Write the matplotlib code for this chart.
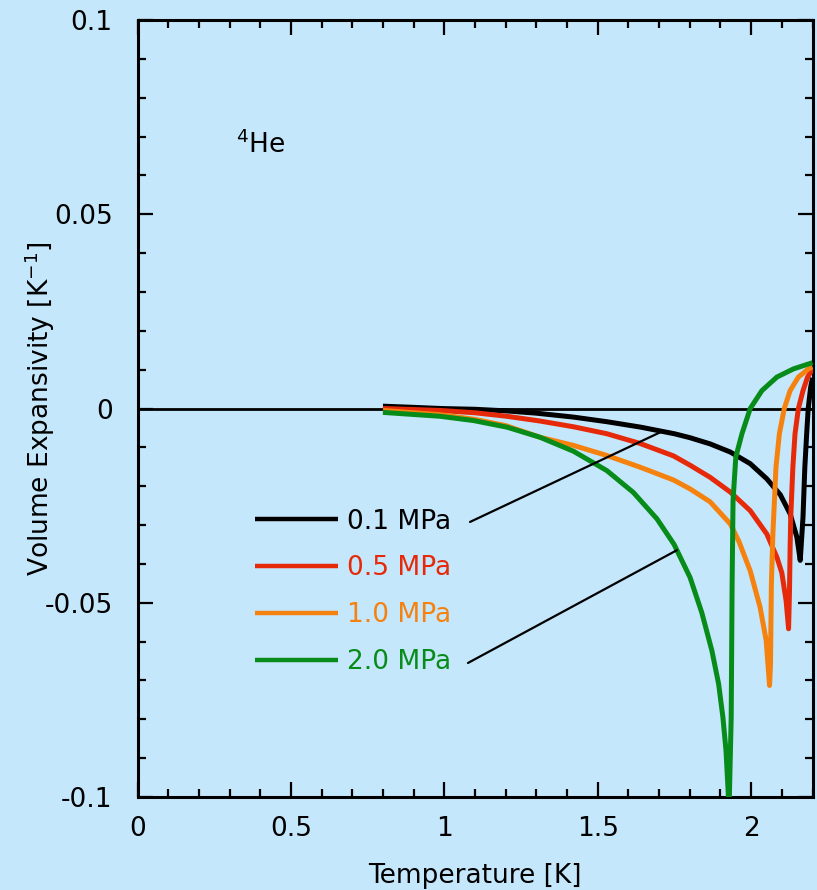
import numpy as np
import matplotlib
matplotlib.use("Agg")
import matplotlib.pyplot as plt
from matplotlib.ticker import MultipleLocator

plt.rcParams['font.family'] = ['DejaVu Sans']
plt.rcParams['axes.unicode_minus'] = False

# ---- data ----
labels = ["0.1 MPa", "0.5 MPa", "1.0 MPa", "2.0 MPa"]
colors = ["#000000", "#E62A09", "#F5820F", "#078C1A"]

T_01 = [0.8, 0.9, 0.99, 1.1, 1.2, 1.3, 1.42, 1.53, 1.64, 1.75, 1.80, 1.866, 1.932, 1.997,
        2.051, 2.095, 2.127, 2.149, 2.160,
        2.169, 2.175, 2.181, 2.186, 2.194, 2.2]
a_01 = [0.0006, 0.0003, 0.0, -0.0002, -0.0006, -0.0012, -0.0022, -0.0034, -0.0048, -0.0065,
        -0.0075, -0.0091, -0.0112, -0.0142,
        -0.0181, -0.0222, -0.0271, -0.0331, -0.0391,
        -0.028, -0.0151, -0.0065, 0.0, 0.0055, 0.0079]

T_05 = [0.8, 0.986, 1.1, 1.204, 1.31, 1.421, 1.53, 1.638, 1.747, 1.801, 1.866, 1.932, 1.997,
        2.051, 2.084, 2.1, 2.114, 2.122,
        2.125, 2.127, 2.129, 2.136, 2.143, 2.154, 2.169, 2.184, 2.2]
a_05 = [0.0, -0.0005, -0.0011, -0.002, -0.0032, -0.0047, -0.0065, -0.009, -0.0122, -0.0146,
        -0.0177, -0.0215, -0.0263,
        -0.0323, -0.0383, -0.0423, -0.0495, -0.0567,
        -0.047, -0.036, -0.028, -0.0151, -0.0065, 0.0, 0.0046, 0.0081, 0.0101]

T_10 = [0.8, 0.986, 1.1, 1.2, 1.312, 1.421, 1.53, 1.638, 1.747, 1.801, 1.866, 1.932, 1.96,
        1.997, 2.029, 2.049, 2.060,
        2.063, 2.066, 2.071, 2.081, 2.092, 2.108, 2.127, 2.154, 2.187, 2.2]
a_10 = [-0.0005, -0.0016, -0.0028, -0.0044, -0.0074, -0.0095, -0.0121, -0.0151, -0.0184,
        -0.0207, -0.0240, -0.0297, -0.0342,
        -0.0418, -0.0511, -0.0597, -0.0713,
        -0.066, -0.045, -0.032, -0.0151, -0.0065, 0.0, 0.0046, 0.0081, 0.0102, 0.0107]

T_20 = [0.8, 0.986, 1.095, 1.204, 1.312, 1.421, 1.53, 1.616, 1.693, 1.749, 1.801, 1.839,
        1.872, 1.894, 1.908, 1.918, 1.926,
        1.929, 1.935, 1.938, 1.941, 1.950, 1.970, 1.997, 2.035, 2.084, 2.138, 2.2]
a_20 = [-0.001, -0.002, -0.0031, -0.0048, -0.0074, -0.0110, -0.0160, -0.0216, -0.0284,
        -0.0350, -0.0435, -0.0525,
        -0.0623, -0.0709, -0.0795, -0.088, -0.1,
        -0.1, -0.0795, -0.045, -0.0237, -0.0125, -0.0065, 0.0, 0.0046, 0.0081,
        0.0102, 0.0118]

series_T = [T_01, T_05, T_10, T_20]
series_a = [a_01, a_05, a_10, a_20]

xticks = [0, 0.5, 1, 1.5, 2]
xticklabels = ["0", "0.5", "1", "1.5", "2"]
yticks = [-0.1, -0.05, 0, 0.05, 0.1]
yticklabels = ["-0.1", "-0.05", "0", "0.05", "0.1"]

bg = "#C5E7FC"

fig = plt.figure(figsize=(8.17, 8.90), dpi=100, facecolor=bg)
ax = fig.add_axes([0.1683, 0.1045, 0.8262, 0.873])
ax.set_facecolor(bg)

ax.axhline(0, color="black", lw=2.0, zorder=1)

lines = []
for T, a, c, lab in zip(series_T, series_a, colors, labels):
    ln, = ax.plot(T, a, color=c, lw=3.6, label=lab, zorder=3, solid_joinstyle='round',
                  solid_capstyle='butt')
    lines.append(ln)

ax.set_xlim(0, 2.2)
ax.set_ylim(-0.1, 0.1)
ax.set_xticks(xticks, xticklabels)
ax.set_yticks(yticks, yticklabels)
ax.xaxis.set_minor_locator(MultipleLocator(0.1))
ax.yaxis.set_minor_locator(MultipleLocator(0.01))
ax.tick_params(which='both', direction='in', top=True, right=True, width=1.6, color='black')
ax.tick_params(which='major', length=11, labelsize=19)
ax.tick_params(which='minor', length=6)
ax.tick_params(axis='y', which='major', pad=18)
ax.tick_params(axis='x', which='major', pad=14)
for s in ax.spines.values():
    s.set_linewidth(2.2)

ax.set_xlabel("Temperature [K]", fontsize=19, labelpad=15)
ax.set_ylabel("Volume Expansivity [K$^{-1}$]", fontsize=19, labelpad=-9.5)

ax.text(0.32, 0.068, "$^4$He", fontsize=19, ha="left", va="center")

leg = ax.legend(handles=lines, loc="upper left", bbox_to_anchor=(0.312, 0.4285),
                bbox_transform=fig.transFigure, frameon=False, fontsize=19,
                handlelength=3.15, handletextpad=0.35, labelspacing=0.79,
                borderpad=0, borderaxespad=0)
for txt, c in zip(leg.get_texts(), colors):
    txt.set_color(c)
for h in leg.legend_handles:
    h.set_linewidth(3.2)

# leader lines from labels to curves
ax.annotate("", xy=(1.71, np.interp(1.71, T_01, a_01)), xycoords="data",
            xytext=(0.4926, 0.354), textcoords="axes fraction",
            arrowprops=dict(arrowstyle="-", lw=1.6, color="black", shrinkA=0, shrinkB=0))
ax.annotate("", xy=(1.758, np.interp(1.758, T_20, a_20)), xycoords="data",
            xytext=(0.4896, 0.1725), textcoords="axes fraction",
            arrowprops=dict(arrowstyle="-", lw=1.6, color="black", shrinkA=0, shrinkB=0))

fig.savefig("out.png", dpi=100, facecolor=bg)
